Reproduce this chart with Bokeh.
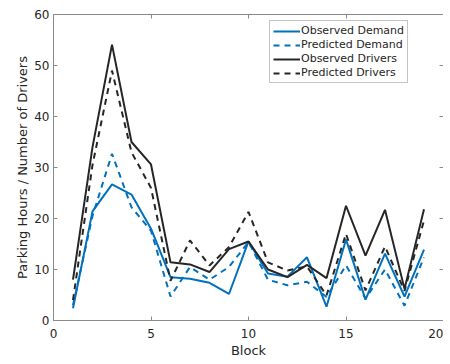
from bokeh.plotting import figure
from bokeh.models import Range1d, LinearAxis, FixedTicker, Legend, LegendItem
from bokeh.embed import file_html
from bokeh.resources import INLINE

blocks = list(range(1, 20))
observed_demand = [2.4, 21.4, 26.7, 24.7, 18.0, 8.5, 8.2, 7.4, 5.2, 15.5, 9.2, 8.6, 12.4, 2.7, 15.9, 4.1, 13.1, 4.7, 13.9]
predicted_demand = [3.0, 20.5, 32.7, 22.2, 17.6, 4.7, 10.5, 8.0, 10.5, 15.4, 8.0, 6.9, 7.6, 4.6, 10.8, 4.3, 10.0, 2.9, 12.4]
observed_drivers = [8.0, 34.0, 54.1, 35.0, 30.6, 11.4, 11.0, 9.5, 14.0, 15.5, 10.0, 8.5, 10.9, 8.3, 22.5, 12.7, 21.7, 6.2, 21.8]
predicted_drivers = [4.0, 30.5, 49.0, 33.0, 26.0, 7.8, 15.7, 10.8, 14.4, 21.3, 11.4, 9.8, 10.6, 4.9, 17.0, 5.9, 14.5, 5.8, 19.6]

x_ticks = [0, 5, 10, 15, 20]
y_ticks = [0, 10, 20, 30, 40, 50, 60]

BLUE = "#0072BD"
DARK = "#262626"
AXIS = "#8a8a8a"
FONT = "DejaVu Sans"

p = figure(width=443, height=360, output_backend="svg", toolbar_location=None,
           x_range=Range1d(0, 20), y_range=Range1d(0, 60),
           min_border_left=53, min_border_right=0, min_border_top=14, min_border_bottom=0)
p.outline_line_color = None
p.xgrid.visible = False
p.ygrid.visible = False

def style(ax, labels=True):
    ax.axis_line_color = AXIS
    ax.major_tick_line_color = AXIS
    ax.minor_tick_line_color = None
    ax.major_tick_in = 4
    ax.major_tick_out = 0
    ax.major_label_text_font = FONT
    ax.major_label_text_font_size = "12px"
    ax.major_label_text_color = DARK
    ax.axis_label_text_font = FONT
    ax.axis_label_text_font_size = "13px"
    ax.axis_label_text_color = DARK
    ax.axis_label_text_font_style = "normal"
    if not labels:
        ax.major_label_overrides = {t: "" for t in ax.ticker.ticks}
        ax.major_label_standoff = 0
        ax.axis_label_standoff = 0

p.xaxis.ticker = FixedTicker(ticks=x_ticks)
p.yaxis.ticker = FixedTicker(ticks=y_ticks)
p.xaxis.axis_label = "Block"
p.yaxis.axis_label = "Parking Hours / Number of Drivers"
style(p.xaxis[0])
style(p.yaxis[0])
p.xaxis.major_label_standoff = 8
p.yaxis.major_label_standoff = 4
p.xaxis.axis_label_standoff = 2
p.yaxis.axis_label_standoff = 1

top = LinearAxis(ticker=FixedTicker(ticks=x_ticks))
right = LinearAxis(ticker=FixedTicker(ticks=y_ticks))
style(top, labels=False)
style(right, labels=False)
p.add_layout(top, "above")
p.add_layout(right, "right")

r1 = p.line(blocks, observed_demand, line_color=BLUE, line_width=2)
r2 = p.line(blocks, predicted_demand, line_color=BLUE, line_width=2, line_dash="6 5")
r3 = p.line(blocks, observed_drivers, line_color=DARK, line_width=2)
r4 = p.line(blocks, predicted_drivers, line_color=DARK, line_width=2, line_dash="6 5")

legend = Legend(items=[
    LegendItem(label="Observed Demand", renderers=[r1]),
    LegendItem(label="Predicted Demand", renderers=[r2]),
    LegendItem(label="Observed Drivers", renderers=[r3]),
    LegendItem(label="Predicted Drivers", renderers=[r4]),
], location=(216, 237))
legend.label_text_font = FONT
legend.label_text_font_size = "11px"
legend.label_text_color = DARK
legend.glyph_width = 27
legend.glyph_height = 12
legend.label_height = 12
legend.label_standoff = 1
legend.spacing = 1
legend.padding = 3
legend.margin = 0
legend.border_line_color = AXIS
legend.border_line_width = 1
legend.background_fill_alpha = 1
p.add_layout(legend, "center")

open("out.html", "w").write(file_html(p, INLINE))
